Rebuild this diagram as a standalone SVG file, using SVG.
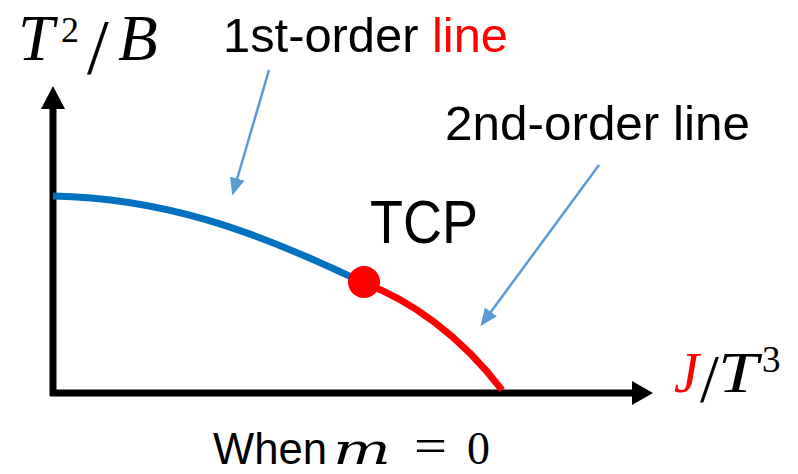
<svg xmlns="http://www.w3.org/2000/svg" width="798" height="474" viewBox="0 0 798 474">
<style>
.lbl{font-family:"Liberation Sans",Arial,sans-serif;fill:#000}
.math{font-family:"Liberation Serif","Times New Roman",serif;fill:#000}
.it{font-style:italic}
.ptr{stroke:#5B9BD5;stroke-width:2.5;fill:none}
</style>
<defs>
<marker id="ah" markerWidth="7" markerHeight="7" refX="6" refY="3" orient="auto" markerUnits="strokeWidth">
<path d="M0,0 L7,3 L0,6 Z" fill="#5B9BD5"/>
</marker>
</defs>
<rect width="798" height="474" fill="#fff"/>
<g id="axes">
<line x1="53" y1="396" x2="53" y2="105" stroke="#000" stroke-width="7"/>
<polygon points="53,86 41,109 65,109" fill="#000"/>
<line x1="50" y1="393" x2="636" y2="393" stroke="#000" stroke-width="7"/>
<polygon points="653,393 632,381 632,405" fill="#000"/>
</g>
<g id="y-label">
<text class="math it" x="18" y="60" font-size="65">T</text>
<text class="math" x="61" y="42" font-size="36">2</text>
<text class="math" x="87" y="73" font-size="78">/</text>
<text class="math it" x="118" y="60" font-size="65">B</text>
</g>
<g id="x-label">
<text class="math it" x="674" y="392" font-size="56" style="fill:#FF0000">J</text>
<text class="math" x="700" y="401" font-size="68">/</text>
<text class="math it" x="718" y="392" font-size="56" textLength="40" lengthAdjust="spacingAndGlyphs">T</text>
<text class="math" x="762" y="372" font-size="37">3</text>
</g>
<g id="first-order-curve">
<path d="M53,196 C160,198 250,228 364,283" stroke="#0070C0" stroke-width="7" fill="none"/>
</g>
<g id="second-order-curve">
<path d="M364,283 C410,300 460,335 502,390" stroke="#FF0000" stroke-width="7" fill="none"/>
</g>
<g id="tcp">
<circle cx="364" cy="282" r="16" fill="#FF0000"/>
<text class="lbl" x="370" y="243" font-size="62" textLength="108" lengthAdjust="spacingAndGlyphs">TCP</text>
</g>
<g id="first-order-label">
<text class="lbl" x="223" y="52" font-size="48" textLength="285" lengthAdjust="spacingAndGlyphs">1st-order <tspan fill="#FF0000">line</tspan></text>
</g>
<g id="second-order-label">
<text class="lbl" x="445" y="140" font-size="48" textLength="305" lengthAdjust="spacingAndGlyphs">2nd-order line</text>
</g>
<g id="connectors">
<line class="ptr" x1="269" y1="70" x2="233" y2="193" marker-end="url(#ah)"/>
<line class="ptr" x1="599" y1="165" x2="482" y2="324" marker-end="url(#ah)"/>
</g>
<g id="caption">
<text class="lbl" x="213" y="464" font-size="45" textLength="114" lengthAdjust="spacingAndGlyphs">When</text>
<text x="333" y="464" font-size="42" font-style="italic" font-family="'DejaVu Serif',serif" textLength="58" lengthAdjust="spacingAndGlyphs">m</text>
<text class="math" x="414" y="462" font-size="48" textLength="33" lengthAdjust="spacingAndGlyphs">=</text>
<text class="math" x="467" y="464" font-size="46">0</text>
</g>
</svg>
